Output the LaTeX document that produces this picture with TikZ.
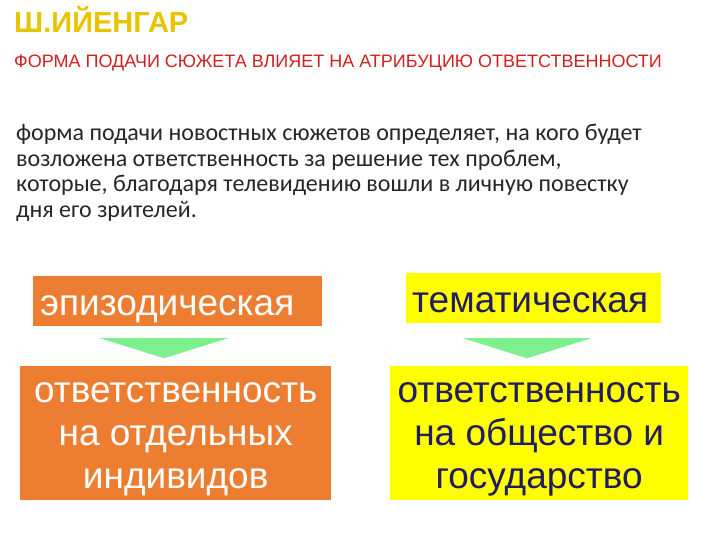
\documentclass[tikz,border=0pt]{standalone}
\usepackage{fontspec}
\setmainfont{Carlito}
\newfontfamily\arialfont{Liberation Sans}
\usetikzlibrary{shapes.geometric, positioning}
\definecolor{titlegold}{HTML}{E8C400}
\definecolor{subred}{HTML}{D02020}
\definecolor{bodygray}{HTML}{262626}
\definecolor{boxorange}{HTML}{ED7D31}
\definecolor{boxyellow}{HTML}{FFFF00}
\definecolor{textnavy}{HTML}{221C60}
\definecolor{arrowgreen}{HTML}{7FF08E}

\begin{document}
\begin{tikzpicture}[
    x=1pt, y=-1pt,
    headbox/.style={rectangle, anchor=north west, minimum height=50pt, inner xsep=7pt, inner ysep=0pt, align=left, text height=29pt, text depth=0pt, font=\arialfont\fontsize{37}{40}\selectfont},
    resultbox/.style={rectangle, anchor=north west, minimum height=134pt, inner sep=0pt, align=center, text height=110pt, text depth=0pt, font=\arialfont\fontsize{37}{43}\selectfont},
    downarrow/.style={isosceles triangle, isosceles triangle stretches, shape border rotate=-90, minimum width=128pt, minimum height=20pt, inner sep=0pt, fill=arrowgreen}
]
\useasboundingbox (0,0) rectangle (720,540);

% Header
\node[anchor=base west, inner sep=0, font=\arialfont\bfseries\fontsize{29}{32}\selectfont, text=titlegold] (author) at (14,33) {Ш.ИЙЕНГАР};
\node[anchor=base west, inner sep=0, font=\arialfont\fontsize{18}{20}\selectfont, text=subred] (thesis) at (14,68) {ФОРМА ПОДАЧИ СЮЖЕТА ВЛИЯЕТ НА АТРИБУЦИЮ ОТВЕТСТВЕННОСТИ};

% Text
\node[anchor=north west, inner sep=0, align=left, text=bodygray, font=\fontsize{24}{25.5}\selectfont] (summary) at (16,124) {форма подачи новостных сюжетов определяет, на кого будет\\
возложена ответственность за решение тех проблем,\\
которые, благодаря телевидению вошли в личную повестку\\
дня его зрителей.};

% Boxes
\node[headbox, fill=boxorange, text=white, text width=275pt] (episodic) at (33,276) {эпизодическая};
\node[headbox, fill=boxyellow, text=textnavy, text width=243pt, inner xsep=6pt] (thematic) at (406,273) {тематическая};

\node[downarrow] (arrowL) at (164,348) {};
\node[downarrow] (arrowR) at (527,348) {};

\node[resultbox, fill=boxorange, text=white, minimum width=311pt] (individuals) at (20,366) {ответственность\\на отдельных\\индивидов};
\node[resultbox, fill=boxyellow, text=textnavy, minimum width=298pt] (society) at (390,366) {ответственность\\на общество и\\государство};

\end{tikzpicture}
\end{document}
